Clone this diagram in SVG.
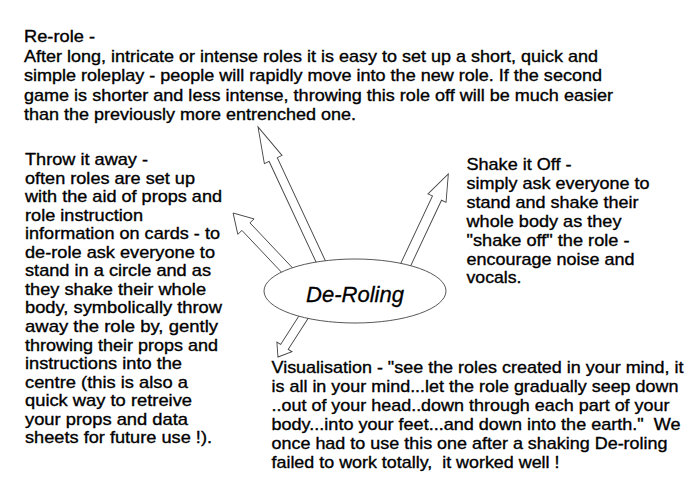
<svg xmlns="http://www.w3.org/2000/svg" width="700" height="486" viewBox="0 0 700 486">
  <style>
    .t { font-family: "Liberation Sans", Arial, Helvetica, sans-serif; font-size: 17px; fill: #000; stroke: #000; stroke-width: 0.35; white-space: pre; }
    .hub { font-family: "Liberation Sans", Arial, Helvetica, sans-serif; font-size: 22px; font-style: italic; fill: #000; stroke: #000; stroke-width: 0.3; }
    .arrow { fill: #fff; stroke: #444; stroke-width: 0.9; stroke-linejoin: miter; }
    .ring { fill: #fff; stroke: #444; stroke-width: 0.9; }
  </style>
  <rect width="700" height="486" fill="#fff"/>

  <!-- hollow block arrows radiating from the centre -->
  <g id="arrows">
    <polygon class="arrow" transform="translate(323.5,267.4) rotate(-115)" points="0,-4.5 119,-4.5 119,-9.75 155,0 119,9.75 119,4.5 0,4.5"/>
    <polygon class="arrow" transform="translate(291.5,274.8) rotate(-133.4)" points="0,-5.5 66.3,-5.5 66.3,-11.2 85,0 66.3,11.2 66.3,5.5 0,5.5"/>
    <polygon class="arrow" transform="translate(402.6,271.2) rotate(-64.8)" points="0,-5 80.8,-5 80.8,-10 107.4,0 80.8,10 80.8,5 0,5"/>
    <polygon class="arrow" transform="translate(307.3,311.3) rotate(122.7)" points="0,-4.5 42.3,-4.5 42.3,-9 54.3,0 42.3,9 42.3,4.5 0,4.5"/>
  </g>

  <g id="de-roling">
    <ellipse class="ring" cx="355" cy="291" rx="91" ry="32"/>
    <text class="hub" x="355" y="302" text-anchor="middle">De-Roling</text>
  </g>

  <g id="re-role">
    <text class="t" x="24" y="42" textLength="71" lengthAdjust="spacingAndGlyphs">Re-role -</text>
    <text class="t" x="24" y="61.5" textLength="574" lengthAdjust="spacingAndGlyphs">After long, intricate or intense roles it is easy to set up a short, quick and</text>
    <text class="t" x="24" y="81" textLength="578" lengthAdjust="spacingAndGlyphs">simple roleplay - people will rapidly move into the new role. If the second</text>
    <text class="t" x="24" y="100.5" textLength="589" lengthAdjust="spacingAndGlyphs">game is shorter and less intense, throwing this role off will be much easier</text>
    <text class="t" x="24" y="120" textLength="332" lengthAdjust="spacingAndGlyphs">than the previously more entrenched one.</text>
  </g>

  <g id="throw-it-away">
    <text class="t" x="25" y="165" textLength="123" lengthAdjust="spacingAndGlyphs">Throw it away -</text>
    <text class="t" x="25" y="183.5" textLength="170" lengthAdjust="spacingAndGlyphs">often roles are set up</text>
    <text class="t" x="25" y="202.1" textLength="197" lengthAdjust="spacingAndGlyphs">with the aid of props and</text>
    <text class="t" x="25" y="220.6" textLength="118" lengthAdjust="spacingAndGlyphs">role instruction</text>
    <text class="t" x="25" y="239.2" textLength="195" lengthAdjust="spacingAndGlyphs">information on cards - to</text>
    <text class="t" x="25" y="257.7" textLength="190" lengthAdjust="spacingAndGlyphs">de-role ask everyone to</text>
    <text class="t" x="25" y="276.3" textLength="186" lengthAdjust="spacingAndGlyphs">stand in a circle and as</text>
    <text class="t" x="25" y="294.8" textLength="181" lengthAdjust="spacingAndGlyphs">they shake their whole</text>
    <text class="t" x="25" y="313.4" textLength="197" lengthAdjust="spacingAndGlyphs">body, symbolically throw</text>
    <text class="t" x="25" y="331.9" textLength="193" lengthAdjust="spacingAndGlyphs">away the role by, gently</text>
    <text class="t" x="25" y="350.5" textLength="193" lengthAdjust="spacingAndGlyphs">throwing their props and</text>
    <text class="t" x="25" y="369" textLength="157" lengthAdjust="spacingAndGlyphs">instructions into the</text>
    <text class="t" x="25" y="387.6" textLength="163" lengthAdjust="spacingAndGlyphs">centre (this is also a</text>
    <text class="t" x="25" y="406.1" textLength="167" lengthAdjust="spacingAndGlyphs">quick way to retreive</text>
    <text class="t" x="25" y="424.7" textLength="163" lengthAdjust="spacingAndGlyphs">your props and data</text>
    <text class="t" x="25" y="443.2" textLength="187" lengthAdjust="spacingAndGlyphs">sheets for future use !).</text>
  </g>

  <g id="shake-it-off">
    <text class="t" x="466.5" y="170" textLength="105" lengthAdjust="spacingAndGlyphs">Shake it Off -</text>
    <text class="t" x="466.5" y="188.9" textLength="183" lengthAdjust="spacingAndGlyphs">simply ask everyone to</text>
    <text class="t" x="466.5" y="207.8" textLength="172" lengthAdjust="spacingAndGlyphs">stand and shake their</text>
    <text class="t" x="466.5" y="226.7" textLength="155" lengthAdjust="spacingAndGlyphs">whole body as they</text>
    <text class="t" x="466.5" y="245.6" textLength="163" lengthAdjust="spacingAndGlyphs">"shake off" the role -</text>
    <text class="t" x="466.5" y="264.5" textLength="168" lengthAdjust="spacingAndGlyphs">encourage noise and</text>
    <text class="t" x="466.5" y="283.4" textLength="55" lengthAdjust="spacingAndGlyphs">vocals.</text>
  </g>

  <g id="visualisation">
    <text class="t" x="271.5" y="373.3" textLength="412" lengthAdjust="spacingAndGlyphs">Visualisation - "see the roles created in your mind, it</text>
    <text class="t" x="271.5" y="392.3" textLength="407" lengthAdjust="spacingAndGlyphs">is all in your mind...let the role gradually seep down</text>
    <text class="t" x="271.5" y="411.3" textLength="398" lengthAdjust="spacingAndGlyphs">..out of your head..down through each part of your</text>
    <text class="t" x="271.5" y="430.3" textLength="409" lengthAdjust="spacingAndGlyphs">body...into your feet...and down into the earth."  We</text>
    <text class="t" x="271.5" y="449.3" textLength="396" lengthAdjust="spacingAndGlyphs">once had to use this one after a shaking De-roling</text>
    <text class="t" x="271.5" y="468.3" textLength="288" lengthAdjust="spacingAndGlyphs">failed to work totally,  it worked well !</text>
  </g>
</svg>
